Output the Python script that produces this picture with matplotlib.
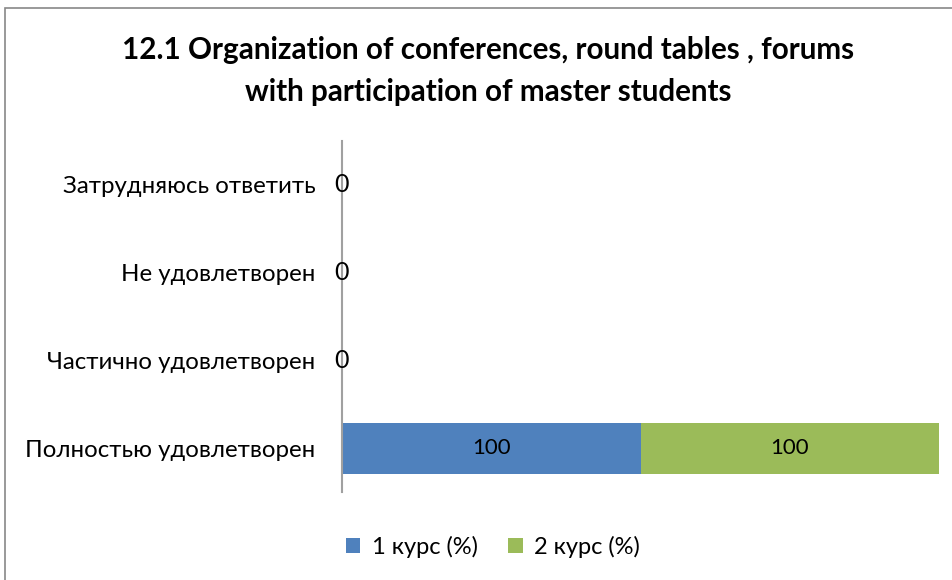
import matplotlib.pyplot as plt
from matplotlib.patches import Rectangle

plt.rcParams['font.family'] = ['Lato', 'DejaVu Sans']

categories = ['Полностью удовлетворен', 'Частично удовлетворен', 'Не удовлетворен', 'Затрудняюсь ответить']
course1 = [100, 0, 0, 0]
course2 = [100, 0, 0, 0]
series_names = ['1 курс (%)', '2 курс (%)']
colors = ['#4f81bd', '#9bbb59']

fig = plt.figure(figsize=(9.53, 5.8), dpi=100)
ax = fig.add_axes([342 / 953, 1 - 492 / 580, (939 - 342) / 953, (492 - 141) / 580])

y = range(len(categories))
b1 = ax.barh(y, course1, height=0.58, color=colors[0], label=series_names[0])
b2 = ax.barh(y, course2, height=0.58, left=course1, color=colors[1], label=series_names[1])

# data labels: zero rows show only one label on the axis
for i, (v1, v2) in enumerate(zip(course1, course2)):
    if v1 + v2 == 0:
        ax.text(0, i, '0', ha='center', va='center', fontsize=18)
        continue
    ax.text(v1 / 2, i, str(v1), ha='center', va='center', fontsize=16)
    ax.text(v1 + v2 / 2, i, str(v2), ha='center', va='center', fontsize=16)

ax.set_xlim(0, 200)
ax.set_ylim(-0.5, len(categories) - 0.5)
ax.set_yticks(list(y))
ax.set_yticklabels(categories, fontsize=17.3)
ax.tick_params(axis='y', length=0, pad=19)
ax.set_xticks([])
for s in ['top', 'right', 'bottom']:
    ax.spines[s].set_visible(False)
ax.spines['left'].set_color('#a0a0a0')
ax.spines['left'].set_linewidth(1.5)

fig.text(488 / 953, 1 - 71 / 580,
         '12.1 Organization of conferences, round tables , forums\nwith participation of master students',
         ha='center', va='center', fontsize=21.3, fontweight='bold', linespacing=1.62)

fig.legend(handles=[b1, b2], loc='center', bbox_to_anchor=(493 / 953, 1 - 547 / 580),
           ncol=2, frameon=False, fontsize=17, handlelength=0.6, handleheight=0.6,
           columnspacing=1.3, handletextpad=0.5)

fig.patches.append(Rectangle((5 / 953, -0.1), 1.2, 1 - 8 / 580 + 0.1, transform=fig.transFigure,
                             fill=False, edgecolor='#888888', linewidth=1.2))

fig.savefig('out.png', dpi=100)
